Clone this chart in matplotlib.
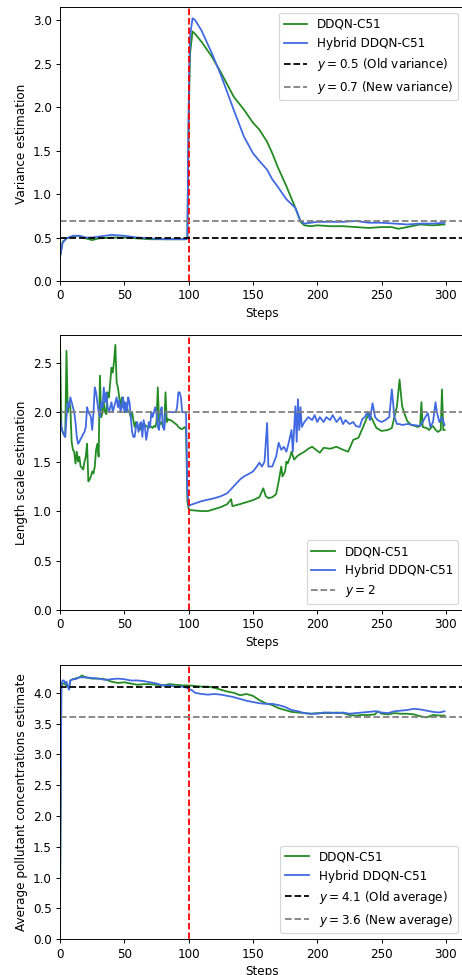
import matplotlib.pyplot as plt
import numpy as np

# ---- panel 1: variance estimation ----
VAR_DDQN_X = [0, 2, 5, 10, 15, 20, 25, 30, 40, 50, 60, 70, 80, 90, 98, 99, 100, 101, 103,
              105, 110, 118, 125, 135, 143, 150, 155, 161, 165, 169, 176, 183, 187, 190,
              195, 200, 210, 220, 230, 240, 250, 258, 263, 270, 280, 290, 299]
VAR_DDQN_Y = [0.28, 0.45, 0.49, 0.51, 0.52, 0.49, 0.47, 0.49, 0.50, 0.50, 0.49, 0.48, 0.48, 0.48,
              0.48, 0.49, 1.80, 2.60, 2.87, 2.84, 2.75, 2.58, 2.40, 2.12, 1.97, 1.82, 1.74, 1.60,
              1.47, 1.32, 1.09, 0.84, 0.68, 0.64, 0.63, 0.64, 0.63, 0.63, 0.62, 0.61, 0.62, 0.62,
              0.60, 0.62, 0.65, 0.64, 0.65]

VAR_HYB_X = [0, 2, 5, 10, 15, 20, 25, 30, 40, 50, 60, 70, 80, 90, 98, 99, 100, 101, 103,
             105, 110, 118, 125, 135, 143, 150, 155, 161, 165, 169, 176, 183, 187, 190,
             195, 200, 210, 220, 230, 240, 250, 260, 270, 280, 290, 299]
VAR_HYB_Y = [0.28, 0.44, 0.49, 0.52, 0.52, 0.50, 0.50, 0.51, 0.53, 0.52, 0.50, 0.49, 0.48, 0.48,
             0.48, 0.50, 2.00, 2.80, 3.02, 3.00, 2.88, 2.62, 2.37, 1.97, 1.66, 1.47, 1.38, 1.28,
             1.17, 1.09, 0.94, 0.84, 0.69, 0.66, 0.67, 0.68, 0.68, 0.68, 0.69, 0.67, 0.67, 0.66,
             0.65, 0.66, 0.66, 0.67]

# ---- panel 2: length scale estimation ----
LEN_DDQN_X = list(range(0, 100)) + [100, 101, 110, 115, 120, 125, 130, 133, 134, 140, 150,
                                     155, 158, 160, 162, 165, 168, 170, 172, 173, 175, 176,
                                     177, 179, 180, 182, 184, 186, 190, 193, 196, 199, 202,
                                     205, 210, 215, 220, 224, 228, 232, 236, 240, 243, 246,
                                     250, 255, 258, 260, 262, 264, 266, 268, 270, 273, 276,
                                     278, 280, 281, 282, 285, 287, 289, 290, 292, 294, 296,
                                     297, 298, 299]
LEN_DDQN_Y = [2.70, 1.85, 1.80, 1.77, 1.75, 2.62, 2.00, 2.10, 2.05, 1.70, 1.62, 1.60, 1.48,
              1.60, 1.50, 1.55, 1.45, 1.44, 1.42, 1.50, 1.55, 1.68, 1.30, 1.32, 1.35, 1.40,
              1.38, 1.45, 1.62, 1.68, 1.55, 2.37, 1.95, 2.00, 2.10, 2.00, 1.98, 2.20, 2.15,
              2.30, 2.45, 2.40, 2.52, 2.68, 2.30, 2.25, 2.15, 2.05, 2.15, 2.05, 2.10, 2.00,
              2.05, 2.00, 2.00, 1.95, 2.00, 1.92, 1.85, 1.90, 1.85, 1.84, 1.82, 1.86, 1.88,
              1.85, 1.87, 1.86, 1.85, 1.84, 1.86, 1.85, 1.84, 1.86, 1.85, 1.90, 2.25, 1.90,
              1.88, 1.90, 1.85, 1.86, 2.20, 1.90, 1.93, 1.92, 1.92, 1.91, 1.90, 1.89, 1.88,
              1.87, 1.85, 1.84, 1.83, 1.83, 1.84, 1.85, 1.82, 1.10,
              1.02, 1.01, 1.00, 1.00, 1.02, 1.04, 1.07, 1.12, 1.05, 1.07, 1.11,
              1.14, 1.23, 1.15, 1.13, 1.14, 1.17, 1.30, 1.45, 1.35, 1.40, 1.50,
              1.48, 1.55, 1.60, 1.52, 1.55, 1.57, 1.60, 1.63, 1.65, 1.62, 1.59,
              1.64, 1.63, 1.65, 1.62, 1.60, 1.72, 1.74, 1.86, 1.99, 1.92, 1.84,
              1.81, 1.82, 1.84, 1.95, 2.06, 2.33, 2.06, 1.98, 1.91, 1.87, 1.86,
              1.85, 1.86, 2.10, 1.85, 1.84, 1.82, 1.85, 1.86, 1.82, 1.80, 1.82,
              2.23, 1.82, 1.82]

LEN_HYB_X = list(range(0, 100)) + [100, 101, 110, 120, 125, 130, 135, 140, 143, 146, 150,
                                    153, 155, 157, 159, 161, 162, 165, 168, 170, 172, 174,
                                    176, 178, 180, 181, 183, 184, 185, 186, 187, 188, 190,
                                    193, 196, 198, 200, 202, 205, 207, 210, 212, 215, 218,
                                    220, 222, 225, 228, 230, 233, 235, 237, 239, 241, 243,
                                    245, 247, 250, 253, 256, 258, 260, 262, 264, 266, 270,
                                    275, 280, 282, 284, 286, 288, 290, 292, 293, 295, 297,
                                    299]
LEN_HYB_Y = [1.95, 1.85, 1.80, 1.78, 1.75, 1.95, 2.10, 2.05, 2.15, 2.10, 2.05, 2.00, 1.90,
             1.75, 1.68, 1.70, 1.73, 1.75, 1.78, 1.80, 1.85, 2.05, 2.00, 1.98, 1.95, 1.82,
             2.00, 2.25, 2.20, 2.10, 2.00, 1.95, 2.10, 2.05, 2.25, 2.10, 2.20, 2.05, 2.00,
             2.05, 2.10, 2.00, 2.05, 2.10, 2.15, 2.05, 2.12, 2.00, 2.05, 2.15, 2.00, 2.10,
             2.00, 2.15, 2.10, 1.95, 1.80, 1.75, 1.75, 1.85, 1.90, 1.80, 1.88, 1.90, 1.75,
             1.92, 1.85, 1.72, 1.80, 1.90, 1.85, 2.00, 1.95, 2.00, 2.05, 2.00, 1.85, 1.82,
             2.00, 2.05, 1.85, 1.82, 2.00, 2.00, 2.00, 2.00, 2.00, 2.00, 2.00, 2.00, 2.00,
             2.05, 2.20, 2.20, 2.15, 2.00, 2.00, 2.00, 1.98, 1.20,
             1.05, 1.06, 1.10, 1.13, 1.15, 1.18, 1.25, 1.32, 1.35, 1.37, 1.40,
             1.45, 1.49, 1.45, 1.50, 1.89, 1.45, 1.45, 1.55, 1.69, 1.62, 1.65,
             1.60, 1.70, 1.82, 1.60, 2.06, 1.70, 2.13, 1.82, 2.05, 1.85, 1.90,
             1.95, 1.92, 1.97, 1.90, 1.95, 1.90, 1.95, 1.92, 1.97, 1.90, 1.95,
             1.88, 1.92, 1.88, 1.90, 1.86, 1.85, 1.93, 1.95, 2.00, 1.92, 2.09,
             1.95, 1.92, 1.90, 1.92, 1.95, 2.23, 1.95, 1.88, 1.88, 1.87, 1.88,
             1.87, 1.86, 1.90, 1.95, 1.99, 1.85, 1.90, 2.10, 2.00, 1.90, 1.95,
             1.87]

# ---- panel 3: average pollutant concentration ----
AVG_DDQN_X = [0, 1, 2, 3, 5, 7, 8, 10, 15, 17, 20, 25, 30, 35, 40, 45, 50, 55, 60, 65, 70,
              75, 80, 85, 90, 95, 100, 105, 110, 115, 120, 125, 130, 135, 140, 145, 150, 155,
              160, 165, 170, 175, 180, 185, 190, 195, 200, 205, 210, 215, 220, 225, 230, 235,
              240, 245, 247, 250, 255, 260, 265, 270, 275, 280, 285, 290, 295, 299]
AVG_DDQN_Y = [0.60, 4.10, 4.15, 4.15, 4.12, 4.10, 4.20, 4.22, 4.25, 4.28, 4.25, 4.23, 4.23,
              4.22, 4.18, 4.16, 4.17, 4.15, 4.13, 4.14, 4.14, 4.13, 4.12, 4.14, 4.13, 4.12,
              4.12, 4.11, 4.10, 4.10, 4.08, 4.05, 4.02, 4.00, 3.96, 3.98, 3.95, 3.88, 3.83,
              3.80, 3.75, 3.72, 3.69, 3.68, 3.67, 3.66, 3.67, 3.67, 3.67, 3.68, 3.67, 3.64,
              3.63, 3.64, 3.64, 3.65, 3.70, 3.66, 3.65, 3.67, 3.66, 3.66, 3.65, 3.62, 3.60,
              3.64, 3.63, 3.63]

AVG_HYB_X = [0, 1, 2, 3, 4, 5, 6, 7, 8, 10, 12, 15, 20, 25, 30, 35, 40, 45, 50, 55, 60, 65,
             70, 75, 80, 85, 90, 95, 99, 100, 102, 105, 110, 115, 120, 125, 130, 135, 140,
             145, 150, 155, 160, 165, 170, 175, 180, 185, 190, 195, 200, 205, 210, 215, 220,
             225, 230, 235, 240, 245, 250, 255, 260, 265, 270, 275, 280, 285, 290, 295, 299]
AVG_HYB_Y = [0.60, 4.15, 4.20, 4.20, 4.15, 4.18, 4.10, 4.05, 4.20, 4.22, 4.22, 4.25, 4.25,
             4.24, 4.23, 4.21, 4.22, 4.23, 4.22, 4.20, 4.20, 4.19, 4.17, 4.15, 4.12, 4.12,
             4.10, 4.10, 4.08, 4.05, 4.05, 4.00, 3.98, 3.97, 3.98, 3.97, 3.95, 3.93, 3.90,
             3.87, 3.85, 3.83, 3.82, 3.82, 3.80, 3.77, 3.72, 3.70, 3.67, 3.66, 3.66, 3.68,
             3.68, 3.67, 3.68, 3.66, 3.67, 3.68, 3.69, 3.70, 3.68, 3.67, 3.70, 3.71, 3.72,
             3.74, 3.73, 3.71, 3.69, 3.68, 3.70]

CHANGE_STEP = 100
GREEN = "forestgreen"
BLUE = "royalblue"
DPI = 86


def draw_panel(ax, x1, y1, x2, y2, ymax):
    ax.plot(x1, y1, color=GREEN, label="DDQN-C51")
    ax.plot(x2, y2, color=BLUE, label="Hybrid DDQN-C51")
    ax.axvline(CHANGE_STEP, color="red", linestyle="--")
    ax.set_xlim(0, 314)
    ax.set_ylim(0, ymax)
    ax.set_xticks([0, 50, 100, 150, 200, 250, 300])
    ax.set_xlabel("Steps")


# the original was drawn larger and shrunk, so render at a lower dpi
fig = plt.figure(figsize=(462 / DPI, 975 / DPI), dpi=DPI)
left, width = 0.13, 0.874
ax1 = fig.add_axes([left, 0.7118, width, 0.281])
ax2 = fig.add_axes([left, 0.3744, width, 0.282])
ax3 = fig.add_axes([left, 0.0366, width, 0.2813])

draw_panel(ax1, VAR_DDQN_X, VAR_DDQN_Y, VAR_HYB_X, VAR_HYB_Y, 3.15)
ax1.axhline(0.5, color="black", linestyle="--", label=r"$y = 0.5$ (Old variance)")
ax1.axhline(0.69, color="gray", linestyle="--", label=r"$y = 0.7$ (New variance)")
ax1.set_ylabel("Variance estimation")
ax1.legend(loc="upper right")

draw_panel(ax2, LEN_DDQN_X, LEN_DDQN_Y, LEN_HYB_X, LEN_HYB_Y, 2.78)
ax2.axhline(2.0, color="gray", linestyle="--", label=r"$y = 2$")
ax2.set_ylabel("Length scale estimation")
ax2.legend(loc="lower right")

draw_panel(ax3, AVG_DDQN_X, AVG_DDQN_Y, AVG_HYB_X, AVG_HYB_Y, 4.45)
ax3.axhline(4.1, color="black", linestyle="--", label=r"$y = 4.1$ (Old average)")
ax3.axhline(3.6, color="gray", linestyle="--", label=r"$y = 3.6$ (New average)")
ax3.set_ylabel("Average pollutant concentrations estimate")
ax3.legend(loc="lower right")

fig.savefig("out.png", dpi=DPI)
